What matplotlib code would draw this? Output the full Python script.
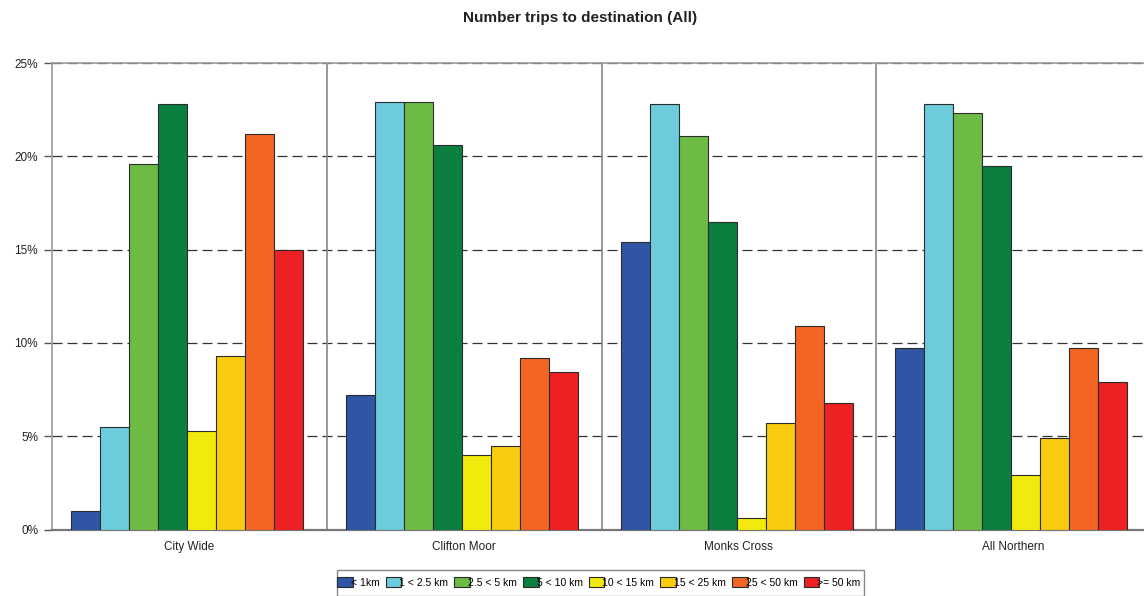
import matplotlib
matplotlib.use("Agg")
import matplotlib.pyplot as plt
import matplotlib.patches as mpatches
import numpy as np

plt.rcParams['font.family'] = ['Liberation Sans', 'DejaVu Sans']

# Destinations (x groups) and distance bands (series)
destinations = ["City Wide", "Clifton Moor", "Monks Cross", "All Northern"]
bands = ["< 1km", "1 < 2.5 km", "2.5 < 5 km", "5 < 10 km",
         "10 < 15 km", "15 < 25 km", "25 < 50 km", ">= 50 km"]

# Share of trips (%) per distance band, one value per destination
lt_1km = [1.0, 7.2, 15.4, 9.7]
km_1_2_5 = [5.5, 22.9, 22.8, 22.8]
km_2_5_5 = [19.6, 22.9, 21.1, 22.3]
km_5_10 = [22.8, 20.6, 16.5, 19.5]
km_10_15 = [5.3, 4.0, 0.6, 2.9]
km_15_25 = [9.3, 4.5, 5.7, 4.9]
km_25_50 = [21.2, 9.2, 10.9, 9.7]
ge_50km = [15.0, 8.45, 6.8, 7.9]

series = [lt_1km, km_1_2_5, km_2_5_5, km_5_10,
          km_10_15, km_15_25, km_25_50, ge_50km]
colors = ["#2F55A4", "#6DCCDB", "#6DBB45", "#0B7F40",
          "#F2EA0D", "#FACC0F", "#F26522", "#ED2024"]

y_ticks = [0, 5, 10, 15, 20, 25]
y_tick_labels = ["0%", "5%", "10%", "15%", "20%", "25%"]

W, H = 1144, 596
fig = plt.figure(figsize=(W / 100, H / 100), dpi=100)
left_px, right_px, top_px, bottom_px = 52, 1151, 63, 529.5
ax = fig.add_axes([left_px / W, 1 - bottom_px / H,
                   (right_px - left_px) / W, (bottom_px - top_px) / H])

x = np.arange(len(destinations))
bar_w = 0.1055
n = len(series)
handles = []
for i, (vals, col) in enumerate(zip(series, colors)):
    offs = (i - (n - 1) / 2) * bar_w - 0.008
    b = ax.bar(x + offs, vals, width=bar_w, color=col, edgecolor="#2b2b2b",
               linewidth=0.8, zorder=3, label=bands[i])
    handles.append(b)

ax.set_xlim(-0.5, len(destinations) - 0.5)
ax.set_ylim(0, 25)
ax.set_yticks(y_ticks)
ax.set_yticklabels(y_tick_labels)
ax.set_xticks(x)
ax.set_xticklabels(destinations)
ax.tick_params(axis='x', length=0, pad=8, labelsize=8.5, colors="#222222")
ax.tick_params(axis='y', length=6, width=1, color="#555555", pad=4,
               labelsize=8.5, labelcolor="#222222")

# Dashed horizontal gridlines
for yv in y_ticks[1:]:
    ax.axhline(yv, color="#333333", linestyle=(0, (8, 4)), linewidth=0.9, zorder=1)

# Vertical separators between destination groups
for xv in x[:-1] + 0.5:
    ax.axvline(xv, color="#888888", linewidth=1.2, zorder=2)

for side in ["left", "top", "right"]:
    ax.spines[side].set_color("#999999")
    ax.spines[side].set_linewidth(1.2)
ax.spines["bottom"].set_color("#777777")
ax.spines["bottom"].set_linewidth(1.6)

fig.text(580 / W, 1 - 18 / H, "Number trips to destination (All)",
         ha="center", va="center", fontsize=11, fontweight="bold",
         color="#222222")

# Legend with a square box beneath the chart
leg = fig.legend(handles=handles, labels=bands, loc="upper left",
                 bbox_to_anchor=(337 / W, 1 - 577 / H), ncol=8,
                 frameon=False, fontsize=7.5, handlelength=1.5,
                 handleheight=1.1, handletextpad=-0.2, columnspacing=0.6,
                 borderpad=0, borderaxespad=0)
for h in leg.legend_handles:
    h.set_edgecolor("#2b2b2b")
    h.set_linewidth(0.8)
fig.patches.append(mpatches.Rectangle((337 / W, 0), (864 - 337) / W,
                                      (H - 570) / H, transform=fig.transFigure,
                                      fill=False, edgecolor="#888888",
                                      linewidth=1.0))

fig.savefig("out.png", dpi=100)
